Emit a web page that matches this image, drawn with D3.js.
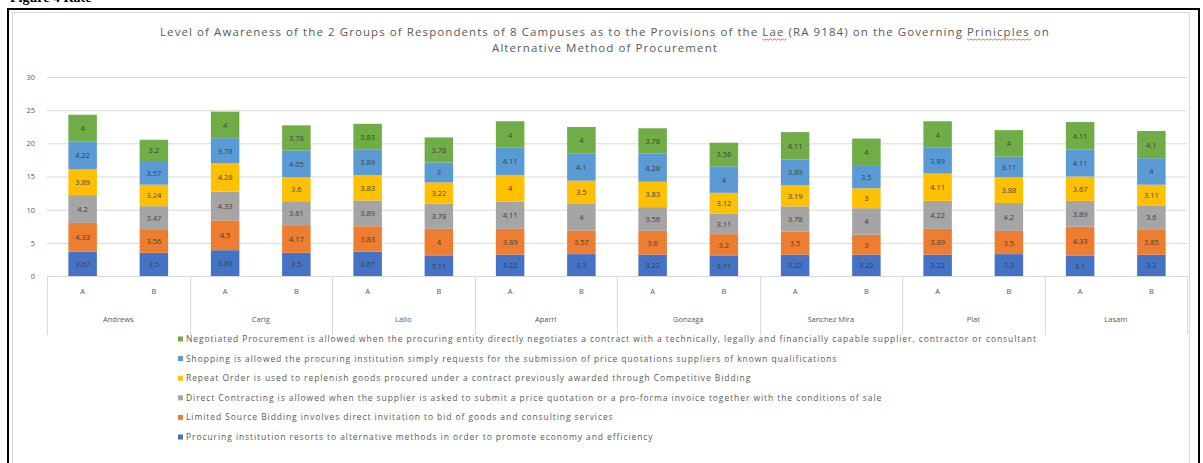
<!DOCTYPE html>
<html>
<head>
<meta charset="utf-8">
<script src="https://cdn.jsdelivr.net/npm/d3@7"></script>
<style>
  html, body { margin: 0; padding: 0; background: #fff; }
  svg { display: block; }
  text { font-family: "Open Sans", "Liberation Sans", sans-serif; }
</style>
</head>
<body>
<svg id="chart" width="1203" height="463"></svg>
<script>
// Campuses and respondent groups on the two-level category axis
const campuses = ["Andrews", "Carig", "Lallo", "Aparri", "Gonzaga", "Sanchez Mira", "Piat", "Lasam"];
const respondentGroups = ["A", "B"];

// Stack order, bottom to top
const seriesNames = [
  "Procuring institution resorts to alternative methods in order to promote economy and efficiency",
  "Limited Source Bidding involves direct invitation to bid of goods and consulting services",
  "Direct Contracting is allowed when the supplier is asked to submit a price quotation or a pro-forma invoice together with the conditions of sale",
  "Repeat Order is used to replenish goods procured under a contract previously awarded through Competitive Bidding",
  "Shopping is allowed the procuring institution simply requests for the submission of price quotations suppliers of known qualifications",
  "Negotiated Procurement is allowed when the procuring entity directly negotiates a contract with a technically, legally and financially capable supplier, contractor or consultant"
];
const seriesColors = ["#4472C4", "#ED7D31", "#A5A5A5", "#FFC000", "#5B9BD5", "#70AD47"];

// Mean scores, A then B for each campus
const procuringValues  = [3.67, 3.5, 3.89, 3.5, 3.67, 3.11, 3.22, 3.3, 3.22, 3.11, 3.22, 3.22, 3.22, 3.3, 3.1, 3.2];
const limitedValues    = [4.33, 3.56, 4.5, 4.17, 3.83, 4, 3.89, 3.57, 3.6, 3.2, 3.5, 3, 3.89, 3.5, 4.33, 3.85];
const directValues     = [4.2, 3.47, 4.33, 3.61, 3.89, 3.78, 4.11, 4, 3.56, 3.11, 3.78, 4, 4.22, 4.2, 3.89, 3.6];
const repeatValues     = [3.89, 3.24, 4.28, 3.6, 3.83, 3.22, 4, 3.5, 3.83, 3.12, 3.19, 3, 4.11, 3.88, 3.67, 3.11];
const shoppingValues   = [4.22, 3.57, 3.78, 4.05, 3.89, 3, 4.11, 4.1, 4.28, 4, 3.89, 3.5, 3.89, 3.11, 4.11, 4];
const negotiatedValues = [4, 3.2, 4, 3.78, 3.83, 3.78, 4, 4, 3.78, 3.56, 4.11, 4, 4, 4, 4.11, 4.1];

const yTicks = [0, 5, 10, 15, 20, 25, 30];

const titleLine1 = "Level of Awareness of the 2 Groups of Respondents of 8 Campuses as to the Provisions of the ";
const titleLaw = "Lae";
const titleMid = " (RA 9184) on the Governing ";
const titlePrinciples = "Prinicples";
const titleEnd = " on";
const titleLine2 = "Alternative Method of Procurement";

const seriesValues = [procuringValues, limitedValues, directValues, repeatValues, shoppingValues, negotiatedValues];

// Build one row per bar for d3.stack
const rows = [];
campuses.forEach((c, ci) => {
  respondentGroups.forEach((g, gi) => {
    const idx = ci * respondentGroups.length + gi;
    const row = { key: c + "|" + g, campus: c, group: g };
    seriesNames.forEach((s, si) => { row[s] = seriesValues[si][idx]; });
    rows.push(row);
  });
});

const svg = d3.select("#chart");

// Page frame and chart area
svg.append("text")
  .attr("x", 10).attr("y", 1.5)
  .style("font-family", "'Liberation Serif', serif")
  .style("font-weight", "bold").style("font-size", "14px")
  .attr("fill", "#000")
  .text("Figure 4 Rate");
svg.append("rect")
  .attr("x", 8).attr("y", 9).attr("width", 1191).attr("height", 470)
  .attr("fill", "#fff").attr("stroke", "#000").attr("stroke-width", 2);
svg.append("rect")
  .attr("x", 12.5).attr("y", 12.5).attr("width", 1177).attr("height", 470)
  .attr("fill", "#fff").attr("stroke", "#d9d9d9").attr("stroke-width", 1);

const plot = { left: 47, right: 1187, top: 77, bottom: 276 };

const x = d3.scaleBand()
  .domain(rows.map(d => d.key))
  .range([plot.left, plot.right])
  .paddingInner(0.6)
  .paddingOuter(0.3);

const y = d3.scaleLinear()
  .domain([0, 30])
  .range([plot.bottom, plot.top]);

// Gridlines and value axis labels
const yAxis = d3.axisLeft(y).tickValues(yTicks).tickSize(-(plot.right - plot.left)).tickPadding(12);
const yg = svg.append("g").attr("transform", `translate(${plot.left},0)`).call(yAxis);
yg.select(".domain").remove();
yg.selectAll(".tick line").attr("stroke", "#d9d9d9");
yg.selectAll(".tick text").attr("fill", "#595959").style("font-size", "7.5px");

// Stacked bars
const stack = d3.stack().keys(seriesNames);
const stacked = stack(rows);

const layers = svg.append("g").selectAll("g")
  .data(stacked).join("g")
  .attr("fill", (d, i) => seriesColors[i]);

layers.selectAll("rect")
  .data(d => d.map(p => ({ p, key: d.key })))
  .join("rect")
  .attr("x", d => x(d.p.data.key))
  .attr("width", x.bandwidth())
  .attr("y", d => y(d.p[1]))
  .attr("height", d => y(d.p[0]) - y(d.p[1]));

// Data labels centred in each segment
layers.selectAll("text")
  .data(d => d.map(p => ({ p, key: d.key })))
  .join("text")
  .attr("x", d => x(d.p.data.key) + x.bandwidth() / 2)
  .attr("y", d => (y(d.p[0]) + y(d.p[1])) / 2 + 3)
  .attr("text-anchor", "middle")
  .attr("fill", "#404040")
  .style("font-size", "7.5px")
  .text(d => String(d.p.data[d.key]));

// Category axis: baseline, group separators, A/B labels and campus names
const axisG = svg.append("g");
axisG.append("line")
  .attr("x1", plot.left).attr("x2", plot.right)
  .attr("y1", plot.bottom + 0.5).attr("y2", plot.bottom + 0.5)
  .attr("stroke", "#d9d9d9");

const step = x.step();
const groupWidth = step * respondentGroups.length;
const groupStart = ci => plot.left + ci * groupWidth;
d3.range(campuses.length + 1).forEach(ci => {
  axisG.append("line")
    .attr("x1", Math.round(groupStart(ci)) + 0.5).attr("x2", Math.round(groupStart(ci)) + 0.5)
    .attr("y1", plot.bottom).attr("y2", 335)
    .attr("stroke", "#d9d9d9");
});

axisG.selectAll("text.grp")
  .data(rows).join("text")
  .attr("class", "grp")
  .attr("x", d => x(d.key) + x.bandwidth() / 2)
  .attr("y", 294)
  .attr("text-anchor", "middle")
  .attr("fill", "#595959")
  .style("font-size", "7.5px")
  .text(d => d.group);

axisG.selectAll("text.campus")
  .data(campuses).join("text")
  .attr("class", "campus")
  .attr("x", (d, i) => groupStart(i) + groupWidth / 2)
  .attr("y", 322)
  .attr("text-anchor", "middle")
  .attr("fill", "#595959")
  .style("font-size", "7.5px")
  .text(d => d);

// Fit a text to a target width by spreading its letters
function spreadTo(sel, targetW) {
  const n = sel.node();
  const w = n.getComputedTextLength();
  const chars = n.textContent.length;
  sel.style("letter-spacing", ((targetW - w) / chars).toFixed(3) + "px");
}

// Title
const titleSize = "11.5px";
const title = svg.append("text")
  .attr("x", 605).attr("y", 36)
  .attr("text-anchor", "middle")
  .attr("fill", "#595959")
  .style("font-size", titleSize);
title.append("tspan").text(titleLine1);
const lawSpan = title.append("tspan").text(titleLaw);
title.append("tspan").text(titleMid);
const prinSpan = title.append("tspan").text(titlePrinciples);
title.append("tspan").text(titleEnd);
spreadTo(title, 890);

const title2 = svg.append("text")
  .attr("x", 605).attr("y", 52)
  .attr("text-anchor", "middle")
  .attr("fill", "#595959")
  .style("font-size", titleSize)
  .text(titleLine2);
title2.style("letter-spacing", title.style("letter-spacing"));

// red proofing squiggles under two title words
function squiggle(span) {
  const node = title.node();
  const all = title.selectAll("tspan").nodes();
  let start = 0;
  for (const n of all) { if (n === span.node()) break; start += n.textContent.length; }
  const len = span.node().textContent.length;
  const p0 = node.getStartPositionOfChar(start);
  const p1 = node.getEndPositionOfChar(start + len - 1);
  const yy = p0.y + 3;
  let dPath = `M${p0.x},${yy}`;
  for (let xx = p0.x, k = 0; xx < p1.x; xx += 2, k++) {
    dPath += ` L${xx + 2},${yy + (k % 2 ? 0 : 1.2)}`;
  }
  svg.append("path").attr("d", dPath).attr("fill", "none")
    .attr("stroke", "#e05050").attr("stroke-width", 0.8);
}
squiggle(lawSpan);
squiggle(prinSpan);

// Legend, top entry is the top of the stack
const legendOrder = d3.range(seriesNames.length).reverse();
const legendG = svg.append("g");
const legendTop = 339, legendStep = 19.6;
const legendItems = legendG.selectAll("g")
  .data(legendOrder).join("g")
  .attr("transform", (d, i) => `translate(178,${legendTop + i * legendStep})`);
legendItems.append("rect")
  .attr("x", 0).attr("y", -2.5).attr("width", 5).attr("height", 5)
  .attr("fill", d => seriesColors[d]);
const legendTexts = legendItems.append("text")
  .attr("x", 8).attr("y", 3)
  .attr("fill", "#595959")
  .style("font-size", "8.5px")
  .text(d => seriesNames[d]);
// spread legend letters so the longest entry spans its width
spreadTo(d3.select(legendTexts.nodes()[0]), 851);
legendTexts.style("letter-spacing", d3.select(legendTexts.nodes()[0]).style("letter-spacing"));
</script>
</body>
</html>
